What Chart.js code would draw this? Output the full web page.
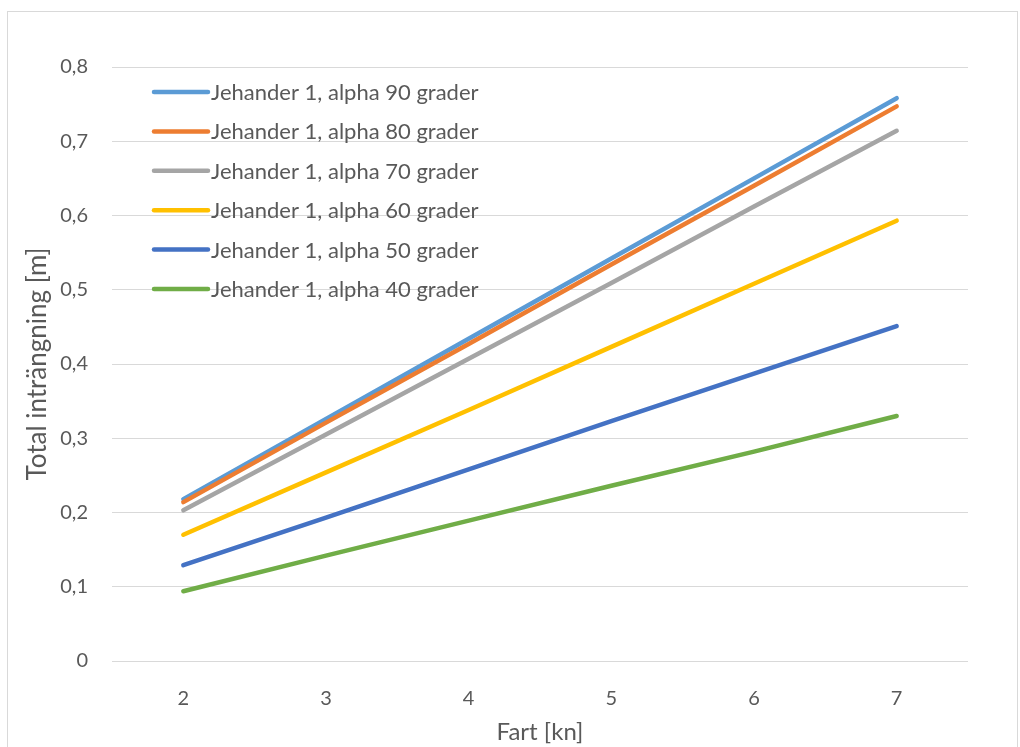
<!DOCTYPE html>
<html lang="sv">
<head>
    <meta charset="UTF-8">
    <title>Total inträngning</title>
    <style>
        html, body {
            margin: 0;
            padding: 0;
            background: #ffffff;
        }

        #wrap {
            position: relative;
            width: 1020px;
            height: 747px;
            overflow: hidden;
        }

        #frame {
            position: absolute;
            left: 7px;
            top: 11px;
            width: 1009px;
            height: 760px;
            border: 1px solid #d9d9d9;
        }

        canvas {
            position: absolute;
            left: 0;
            top: 0;
        }
    </style>
</head>
<body>
    <div id="wrap">
        <div id="frame"></div>
        <canvas id="fartChart" width="1020" height="747"></canvas>
    </div>

    <script src="https://cdn.jsdelivr.net/npm/chart.js"></script>
    <script>
        // Fart [kn]
        const fart = ['2', '3', '4', '5', '6', '7'];

        // total inträngning [m] per vinkel
        const alpha90 = [0.218, 0.326, 0.434, 0.542, 0.650, 0.758];
        const alpha80 = [0.214, 0.321, 0.427, 0.534, 0.640, 0.747];
        const alpha70 = [0.203, 0.305, 0.407, 0.509, 0.612, 0.714];
        const alpha60 = [0.170, 0.254, 0.338, 0.423, 0.508, 0.593];
        const alpha50 = [0.129, 0.193, 0.258, 0.323, 0.387, 0.451];
        const alpha40 = [0.094, 0.142, 0.189, 0.236, 0.282, 0.330];

        const serieNamn = [
            'Jehander 1, alpha 90 grader',
            'Jehander 1, alpha 80 grader',
            'Jehander 1, alpha 70 grader',
            'Jehander 1, alpha 60 grader',
            'Jehander 1, alpha 50 grader',
            'Jehander 1, alpha 40 grader'
        ];
        const serieData = [alpha90, alpha80, alpha70, alpha60, alpha50, alpha40];
        const farger = ['#5b9bd5', '#ed7d31', '#a5a5a5', '#ffc000', '#4472c4', '#70ad47'];

        const yTicks = [0, 0.1, 0.2, 0.3, 0.4, 0.5, 0.6, 0.7, 0.8];

        const textFarg = '#595959';
        const fontFamily = 'Lato, "Open Sans", sans-serif';

        // legenden ligger inne i diagramytan, som i Excel
        const innerLegend = {
            id: 'innerLegend',
            afterDraw(chart) {
                const ctx = chart.ctx;
                const area = chart.chartArea;
                ctx.save();
                ctx.font = '22px ' + fontFamily;
                ctx.textBaseline = 'middle';
                ctx.textAlign = 'left';
                chart.data.datasets.forEach((ds, i) => {
                    const y = area.top + 25 + i * 39.4;
                    const x0 = area.left + 42;
                    ctx.strokeStyle = ds.borderColor;
                    ctx.lineWidth = 4.5;
                    ctx.lineCap = 'round';
                    ctx.beginPath();
                    ctx.moveTo(x0, y);
                    ctx.lineTo(x0 + 54, y);
                    ctx.stroke();
                    ctx.fillStyle = textFarg;
                    ctx.fillText(ds.label, x0 + 57, y + 1);
                });
                ctx.restore();
            }
        };

        const datasets = serieData.map((d, i) => ({
            label: serieNamn[i],
            data: d,
            borderColor: farger[i],
            backgroundColor: farger[i],
            borderWidth: 4.5,
            borderCapStyle: 'round',
            borderJoinStyle: 'round',
            pointRadius: 0,
            tension: 0,
            order: serieData.length - i
        }));

        const ctx = document.getElementById('fartChart').getContext('2d');
        const chart = new Chart(ctx, {
            type: 'line',
            data: {
                labels: fart,
                datasets: datasets
            },
            options: {
                responsive: false,
                animation: false,
                layout: {
                    padding: { left: 0, top: 67, right: 52, bottom: 0 }
                },
                plugins: {
                    legend: { display: false },
                    tooltip: { enabled: false }
                },
                scales: {
                    x: {
                        offset: true,
                        grid: { display: false },
                        border: { display: false },
                        ticks: {
                            color: textFarg,
                            font: { family: fontFamily, size: 20 },
                            padding: 18
                        },
                        title: {
                            display: true,
                            text: 'Fart [kn]',
                            color: textFarg,
                            font: { family: fontFamily, size: 24 },
                            padding: { top: 0, bottom: 0 }
                        },
                        afterFit(scale) { scale.height = 86; }
                    },
                    y: {
                        min: 0,
                        max: 0.8,
                        afterBuildTicks(scale) {
                            scale.ticks = yTicks.map(v => ({ value: v }));
                        },
                        grid: {
                            color: '#d9d9d9',
                            lineWidth: 1,
                            drawTicks: false
                        },
                        border: { display: false },
                        ticks: {
                            color: textFarg,
                            font: { family: fontFamily, size: 20 },
                            padding: 24,
                            callback: v => v === 0 ? '0' : v.toFixed(1).replace('.', ',')
                        },
                        title: {
                            display: true,
                            text: 'Total inträngning [m]',
                            color: textFarg,
                            font: { family: fontFamily, size: 26 },
                            padding: { top: 22, bottom: 0 }
                        },
                        afterFit(scale) { scale.width = 112; }
                    }
                }
            },
            plugins: [innerLegend]
        });
    </script>
</body>
</html>
